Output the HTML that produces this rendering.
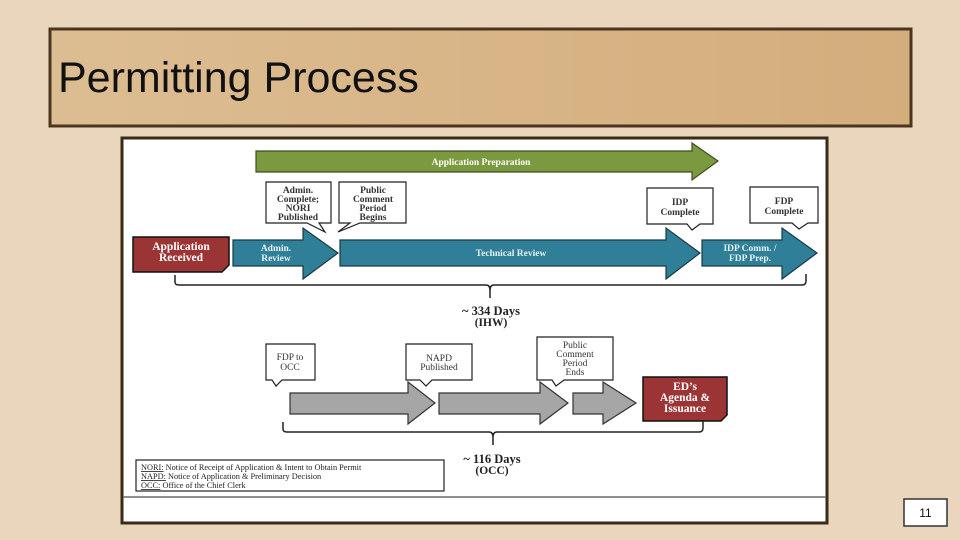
<!DOCTYPE html>
<html><head><meta charset="utf-8"><style>
html,body{margin:0;padding:0;background:#e9d6bc;}
body{width:960px;height:540px;position:relative;overflow:hidden;}
svg{position:absolute;left:0;top:0;}
</style></head><body>
<svg width="960" height="540" viewBox="0 0 960 540" font-family="Liberation Serif, serif">
<defs>
<linearGradient id="tg" x1="0" x2="1" y1="0" y2="0"><stop offset="0" stop-color="#dcbd92"/><stop offset="1" stop-color="#d4ad7c"/></linearGradient>
</defs>
<rect x="0" y="0" width="960" height="540" fill="#e9d6bc"/>
<rect x="50" y="29" width="861" height="97" fill="url(#tg)" stroke="#4a3520" stroke-width="3"/>
<text x="58" y="92" font-family="Liberation Sans, sans-serif" font-size="43" fill="#111">Permitting Process</text>
<rect x="122" y="138" width="705" height="385" fill="#fff" stroke="#3a2a18" stroke-width="3"/>
<line x1="123" y1="497" x2="826" y2="497" stroke="#6a6a6a" stroke-width="1.5"/>
<rect x="904" y="499" width="43" height="27" fill="#fff" stroke="#333" stroke-width="1.5"/>
<text x="925.5" y="517" font-family="Liberation Sans, sans-serif" font-size="12" text-anchor="middle" fill="#111">11</text>

<polygon points="256,151 692,151 692,143 718,161 692,180 692,172 256,172" fill="#7b9a3f" stroke="#3d4d20" stroke-width="1.2"/>
<text x="481" y="165" font-size="9.5" font-weight="bold" fill="#fff" text-anchor="middle">Application Preparation</text>

<g stroke="#222" stroke-width="1.2" fill="#fff">
<path d="M266,182 H331 V223 H319 L325,232 L307,223 H266 Z"/>
<path d="M339,182 H406 V223 H360 L338,232 L350,223 H339 Z"/>
<path d="M647,188 H713 V224 H700 L692,230 L687,224 H647 Z"/>
<path d="M750,187 H818 V223 H808 L799,229 L792,223 H750 Z"/>
</g>
<g font-size="9.5" font-weight="bold" fill="#333" text-anchor="middle">
<text x="298" y="193">Admin.</text><text x="298" y="202">Complete;</text><text x="298" y="211">NORI</text><text x="298" y="220">Published</text>
<text x="373" y="193">Public</text><text x="373" y="202">Comment</text><text x="373" y="211">Period</text><text x="373" y="220">Begins</text>
<text x="680" y="205">IDP</text><text x="680" y="215">Complete</text>
<text x="784" y="204">FDP</text><text x="784" y="214">Complete</text>
</g>

<path d="M133,237 H229 V265 L222,272 H133 Z" fill="#9b3535" stroke="#111" stroke-width="1.5"/>
<text x="181" y="250" font-size="11.5" font-weight="bold" fill="#fff" text-anchor="middle">Application</text>
<text x="181" y="261" font-size="11.5" font-weight="bold" fill="#fff" text-anchor="middle">Received</text>

<g fill="#2e7f97" stroke="#1a3a44" stroke-width="1.2">
<polygon points="233,240 303,240 303,228 338,253 303,279 303,266 233,266"/>
<polygon points="340,240 666,240 666,228 700,253 666,279 666,266 340,266"/>
<polygon points="702,240 782,240 782,228 817,253 782,279 782,266 702,266"/>
</g>
<g font-size="9.5" font-weight="bold" fill="#e8f2f5" text-anchor="middle">
<text x="276" y="251">Admin.</text><text x="276" y="261">Review</text>
<text x="511" y="256">Technical Review</text>
<text x="750" y="251">IDP Comm. /</text><text x="750" y="261">FDP Prep.</text>
</g>

<path d="M175,275 V282 Q175,285 179,285 H486 Q490,285 490,290 V298 M490,290 Q490,285 494,285 H802 Q806,285 806,281 V274" fill="none" stroke="#222" stroke-width="1.5"/>
<text x="491" y="315" font-size="12.5" font-weight="bold" fill="#222" text-anchor="middle">~ 334 Days</text>
<text x="491" y="326" font-size="11.5" font-weight="bold" fill="#222" text-anchor="middle">(IHW)</text>

<g stroke="#222" stroke-width="1.2" fill="#fff">
<path d="M266,344 H315 V380 H282 L276,386 L272,380 H266 Z"/>
<path d="M406,344 H472 V380 H432 L426,386 L420,380 H406 Z"/>
<path d="M537,337 H613 V380 H564 L556,386 L552,380 H537 Z"/>
</g>
<g font-size="9.5" fill="#333" text-anchor="middle">
<text x="290" y="360">FDP to</text><text x="290" y="370">OCC</text>
<text x="439" y="361">NAPD</text><text x="439" y="370">Published</text>
<text x="575" y="348">Public</text><text x="575" y="357">Comment</text><text x="575" y="366">Period</text><text x="575" y="375">Ends</text>
</g>

<g fill="#a6a6a6" stroke="#333" stroke-width="1.2">
<polygon points="290,393 408,393 408,382 435,403 408,424 408,414 290,414"/>
<polygon points="439,393 540,393 540,382 568,403 540,424 540,414 439,414"/>
<polygon points="573,393 603,393 603,382 636,403 603,424 603,414 573,414"/>
</g>

<path d="M643,377 H727 V415 L721,421 H643 Z" fill="#9b3535" stroke="#111" stroke-width="1.5"/>
<g font-size="11.5" font-weight="bold" fill="#fff" text-anchor="middle">
<text x="685" y="390">ED’s</text><text x="685" y="401">Agenda &amp;</text><text x="685" y="412">Issuance</text>
</g>

<path d="M283,422 V429 Q283,432 287,432 H489 Q493,432 493,437 V445 M493,437 Q493,432 497,432 H699 Q703,432 703,428 V421" fill="none" stroke="#222" stroke-width="1.5"/>
<text x="492" y="463" font-size="12.5" font-weight="bold" fill="#222" text-anchor="middle">~ 116 Days</text>
<text x="492" y="474" font-size="11.5" font-weight="bold" fill="#222" text-anchor="middle">(OCC)</text>

<rect x="136" y="460" width="308" height="31" fill="#fff" stroke="#222" stroke-width="1.2"/>
<g font-size="8.3" fill="#222">
<text x="141" y="470"><tspan text-decoration="underline">NORI:</tspan> Notice of Receipt of Application &amp; Intent to Obtain Permit</text>
<text x="141" y="479"><tspan text-decoration="underline">NAPD:</tspan> Notice of Application &amp; Preliminary Decision</text>
<text x="141" y="488"><tspan text-decoration="underline">OCC:</tspan> Office of the Chief Clerk</text>
</g>
</svg>
</body></html>
